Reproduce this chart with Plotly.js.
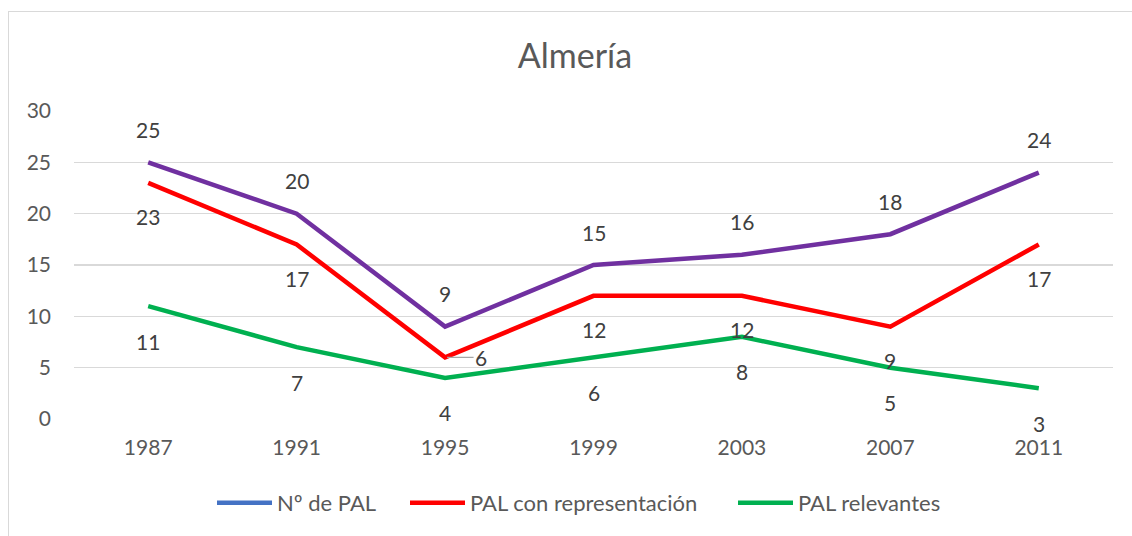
<!DOCTYPE html>
<html>
<head>
<meta charset="utf-8">
<script src="https://cdn.plot.ly/plotly-3.0.1.min.js"></script>
<style>
  html, body { margin: 0; padding: 0; background: #fff; }
  #wrap { position: relative; width: 1132px; height: 536px; overflow: hidden; }
  #chart { width: 1132px; height: 536px; }
  #frame { position: absolute; left: 8px; top: 11px; width: 1140px; height: 540px;
           border: 1.5px solid #d9d9d9; pointer-events: none; box-sizing: border-box; }
</style>
</head>
<body>
<div id="wrap">
  <div id="chart"></div>
  <div id="frame"></div>
</div>
<script>
const years = ['1987', '1991', '1995', '1999', '2003', '2007', '2011'];
const numPAL = [25, 20, 9, 15, 16, 18, 24];
const palConRepresentacion = [23, 17, 6, 12, 12, 9, 17];
const palRelevantes = [11, 7, 4, 6, 8, 5, 3];
const seriesNames = ['Nº de PAL', 'PAL con representación', 'PAL relevantes'];

const FONT = 'Lato, "Open Sans", "Liberation Sans", sans-serif';
const LW = 4.5;
const FS = 21;

const traces = [
  { x: years, y: numPAL, type: 'scatter', mode: 'lines', name: seriesNames[0],
    line: { color: '#7030A0', width: LW }, showlegend: false },
  { x: years, y: palConRepresentacion, type: 'scatter', mode: 'lines', name: seriesNames[1],
    line: { color: '#FF0000', width: LW }, showlegend: false },
  { x: years, y: palRelevantes, type: 'scatter', mode: 'lines', name: seriesNames[2],
    line: { color: '#00B050', width: LW }, showlegend: false },
  // legend keys (the reference legend shows a blue key for the first series)
  { x: [years[0]], y: [null], type: 'scatter', mode: 'lines', name: seriesNames[0],
    line: { color: '#4472C4', width: LW }, legend: 'legend' },
  { x: [years[0]], y: [null], type: 'scatter', mode: 'lines', name: seriesNames[1],
    line: { color: '#FF0000', width: LW }, legend: 'legend2' },
  { x: [years[0]], y: [null], type: 'scatter', mode: 'lines', name: seriesNames[2],
    line: { color: '#00B050', width: LW }, legend: 'legend3' }
];

const labelFont = { family: FONT, size: FS, color: '#404040' };
const annotations = [];
years.forEach((yr, i) => {
  annotations.push({ xref: 'x', yref: 'y', x: i, y: numPAL[i], text: String(numPAL[i]),
    showarrow: false, yshift: 33, font: labelFont });
  if (i === 2) {
    annotations.push({ xref: 'x', yref: 'y', x: i, y: palConRepresentacion[i],
      text: String(palConRepresentacion[i]),
      showarrow: true, arrowhead: 0, arrowwidth: 1.2, arrowcolor: '#a6a6a6',
      ax: 36, ay: 0, standoff: 2, font: labelFont });
  } else {
    annotations.push({ xref: 'x', yref: 'y', x: i, y: palConRepresentacion[i],
      text: String(palConRepresentacion[i]), showarrow: false, yshift: -34, font: labelFont });
  }
  annotations.push({ xref: 'x', yref: 'y', x: i, y: palRelevantes[i], text: String(palRelevantes[i]),
    showarrow: false, yshift: -35, font: labelFont });
});

const legendBase = { orientation: 'h', xref: 'container', xanchor: 'left',
  yref: 'container', y: 1 - 503 / 536, yanchor: 'middle', itemwidth: 55,
  font: { family: FONT, size: 22, color: '#595959' }, bgcolor: 'rgba(0,0,0,0)' };

const layout = {
  width: 1132, height: 536,
  margin: { l: 74, r: 19, t: 111, b: 117 },
  paper_bgcolor: '#ffffff', plot_bgcolor: '#ffffff',
  font: { family: FONT, size: FS, color: '#595959' },
  title: { text: 'Almería', font: { family: FONT, size: 34, color: '#595959' },
    x: 575 / 1132, xref: 'container', xanchor: 'center', y: 1 - 56 / 536, yref: 'container', yanchor: 'middle' },
  xaxis: { type: 'category', categoryorder: 'array', categoryarray: years, range: [-0.5, years.length - 0.5],
    showgrid: false, zeroline: false, showline: false, ticks: '',
    ticklabelstandoff: 14, tickfont: { family: FONT, size: FS, color: '#595959' }, fixedrange: true },
  yaxis: { range: [0, 30], dtick: 5, tick0: 0, showgrid: true, gridcolor: '#d9d9d9', gridwidth: 1.3,
    zeroline: false, showline: false, ticks: '', ticklabelstandoff: 22,
    tickfont: { family: FONT, size: FS, color: '#595959' }, fixedrange: true },
  showlegend: true,
  legend: Object.assign({}, legendBase, { x: 212 / 1132 }),
  legend2: Object.assign({}, legendBase, { x: 405 / 1132 }),
  legend3: Object.assign({}, legendBase, { x: 733 / 1132 }),
  annotations: annotations
};

Plotly.newPlot('chart', traces, layout, { displayModeBar: false, staticPlot: true });
</script>
</body>
</html>
